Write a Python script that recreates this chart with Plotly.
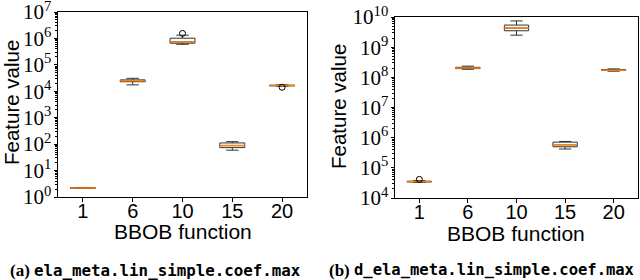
import plotly.graph_objects as go

categories = ["1", "6", "10", "15", "20"]

# Left panel: ela_meta.lin_simple.coef.max
a_q1 = [2.15, 2.3e4, 6.6e5, 74, 1.6e4]
a_median = [2.2, 2.5e4, 7.4e5, 88, 1.65e4]
a_q3 = [2.25, 2.7e4, 1.02e6, 111, 1.7e4]
a_low = [2.1, 1.75e4, 6.0e5, 59, 1.55e4]
a_high = [2.3, 3.1e4, 1.33e6, 124, 1.75e4]
a_out_x = ["10", "20"]
a_out_y = [1.55e6, 1.42e4]

# Right panel: d_ela_meta.lin_simple.coef.max
b_q1 = [3.4e4, 1.95e8, 3.5e9, 5.0e5, 1.68e8]
b_median = [3.5e4, 2.05e8, 4.3e9, 5.8e5, 1.73e8]
b_q3 = [3.6e4, 2.15e8, 5.4e9, 7.1e5, 1.8e8]
b_low = [3.3e4, 1.85e8, 2.5e9, 4.2e5, 1.6e8]
b_high = [3.8e4, 2.35e8, 7.4e9, 7.5e5, 1.9e8]
b_out_x = ["1"]
b_out_y = [4.15e4]

a_decades = list(range(0, 8))
b_decades = list(range(4, 11))

BOX_LINE = "#333333"
MEDIAN = "#ff7f0e"

fig = go.Figure()


def add_panel(q1, med, q3, lo, hi, ox, oy, xa, ya):
    fig.add_trace(go.Box(
        x=categories, q1=q1, median=med, q3=q3, lowerfence=lo, upperfence=hi,
        width=0.5, whiskerwidth=0.5, fillcolor="white",
        line=dict(color=BOX_LINE, width=1), boxpoints=False,
        xaxis=xa, yaxis=ya, showlegend=False))
    fig.add_trace(go.Box(
        x=categories, q1=med, median=med, q3=med, lowerfence=med, upperfence=med,
        width=0.5, whiskerwidth=0, fillcolor="rgba(0,0,0,0)",
        line=dict(color=MEDIAN, width=1.5), boxpoints=False,
        xaxis=xa, yaxis=ya, showlegend=False))
    fig.add_trace(go.Scatter(
        x=ox, y=oy, mode="markers",
        marker=dict(symbol="circle-open", size=6, color="black", line=dict(width=1)),
        xaxis=xa, yaxis=ya, showlegend=False, cliponaxis=False))


add_panel(a_q1, a_median, a_q3, a_low, a_high, a_out_x, a_out_y, "x", "y")
add_panel(b_q1, b_median, b_q3, b_low, b_high, b_out_x, b_out_y, "x2", "y2")

serif = "Liberation Serif"
sans = "Liberation Sans"


def yaxis(decades, domain, anchor):
    minor_vals = [k * 10 ** d for d in decades[:-1] for k in range(2, 10)]
    return dict(
        type="log", range=[decades[0] - 1e-6, decades[-1] + 1e-6], domain=domain,
        anchor=anchor, automargin=False, ticklabeloverflow="allow",
        tickmode="array", tickvals=[10 ** d for d in decades],
        ticktext=["10<sup>%d</sup>" % d for d in decades],
        tickfont=dict(family=serif, size=21, color="black"),
        ticks="outside", ticklen=3.5, tickwidth=1, tickcolor="black",
        ticklabelstandoff=-2,
        minor=dict(ticks="outside", ticklen=2, tickwidth=0.8, tickcolor="black",
                   tickvals=minor_vals),
        showline=True, linecolor="black", linewidth=1, mirror=True,
        showgrid=False, zeroline=False)


def xaxis(domain, anchor):
    return dict(
        type="category", range=[-0.5, 4.5], domain=domain, anchor=anchor,
        automargin=False, ticklabeloverflow="allow",
        categoryorder="array", categoryarray=categories,
        tickfont=dict(family=sans, size=20, color="black"),
        ticks="outside", ticklen=3.5, tickwidth=1, tickcolor="black",
        ticklabelstandoff=-8,
        showline=True, linecolor="black", linewidth=1, mirror=True,
        showgrid=False, zeroline=False)


fig.update_layout(
    width=640, height=280,
    margin=dict(l=0, r=0, t=0, b=0, autoexpand=False),
    paper_bgcolor="white", plot_bgcolor="white",
    boxmode="overlay",
    xaxis=xaxis([58 / 640, 307 / 640], "y"),
    yaxis=yaxis(a_decades, [(280 - 197) / 280, (280 - 12) / 280], "x"),
    xaxis2=xaxis([395 / 640, 638 / 640], "y2"),
    yaxis2=yaxis(b_decades, [(280 - 198) / 280, (280 - 17) / 280], "x2"),
)

ann = [
    dict(text="Feature value", x=11 / 640, y=(280 - 103) / 280, textangle=-90,
         font=dict(family=sans, size=20.5, color="black")),
    dict(text="Feature value", x=338 / 640, y=(280 - 107) / 280, textangle=-90,
         font=dict(family=sans, size=20.5, color="black")),
    dict(text="BBOB function", x=182.5 / 640, y=(280 - 232) / 280,
         font=dict(family=sans, size=21, color="black")),
    dict(text="BBOB function", x=516 / 640, y=(280 - 233) / 280,
         font=dict(family=sans, size=21, color="black")),
    dict(text="<b>(a)</b>", x=31 / 640, y=(280 - 270) / 280, xanchor="right",
         font=dict(family=serif, size=17, color="black")),
    dict(text="<b>ela_meta.lin_simple.coef.max</b>", x=33 / 640, y=(280 - 270) / 280,
         xanchor="left", font=dict(family="DejaVu Sans Mono", size=15.8, color="black")),
    dict(text="<b>(b)</b>", x=351 / 640, y=(280 - 270) / 280, xanchor="right",
         font=dict(family=serif, size=17, color="black")),
    dict(text="<b>d_ela_meta.lin_simple.coef.max</b>", x=353 / 640, y=(280 - 270) / 280,
         xanchor="left", font=dict(family="DejaVu Sans Mono", size=15.5, color="black")),
]
for a in ann:
    a.update(xref="paper", yref="paper", showarrow=False, borderpad=0)
    a.setdefault("xanchor", "center")
    a.setdefault("yanchor", "middle")
fig.update_layout(annotations=ann)

fig.write_html("out.html", config={"displayModeBar": False},
               post_script="document.body.style.margin='0';document.body.style.overflow='hidden';")
